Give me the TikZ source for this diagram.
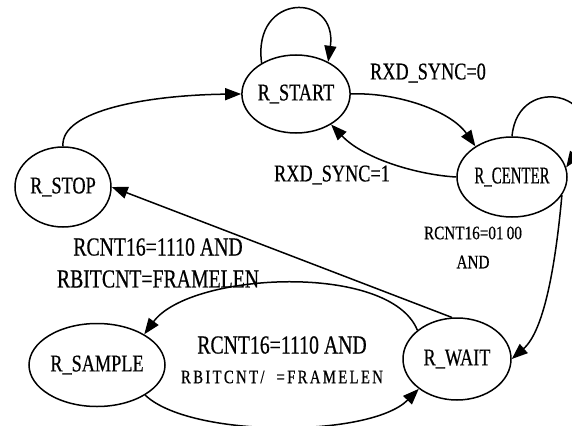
\documentclass[tikz,border=0pt]{standalone}
\usepackage{fontspec}
\setmainfont{Liberation Serif}[FakeStretch=0.76,FakeBold=0.5]
\newfontfamily\narrowfont{Liberation Serif}[FakeStretch=0.62,FakeBold=0.5]
\newfontfamily\smallfont{Liberation Serif}[FakeStretch=0.8,FakeBold=0.5]
\newfontfamily\spacedfont{Liberation Serif}[FakeStretch=0.78,LetterSpace=12,FakeBold=0.5]
\usetikzlibrary{shapes.geometric,arrows.meta}
\begin{document}
\begin{tikzpicture}[x=1pt,y=-1pt,
  state/.style={draw,ellipse,line width=1.5pt,inner sep=0pt,font=\fontsize{24}{24}\selectfont},
  arr/.style={line width=1.5pt,-{Triangle[length=16pt,width=12pt]}},
  lbl/.style={inner sep=0pt,font=\fontsize{24}{24}\selectfont},
  biglbl/.style={inner sep=0pt,font=\fontsize{26}{26}\selectfont},
  smalllbl/.style={inner sep=0pt,font=\smallfont\fontsize{19}{19}\selectfont},
  spacedlbl/.style={inner sep=0pt,font=\spacedfont\fontsize{19}{19}\selectfont}]
\useasboundingbox (0,0) rectangle (572,425);
\fill[white] (0,0) rectangle (572,425);

% states
\node[state,minimum width=100pt,minimum height=78pt] (rstart) at (296,94) {R\_START};
\node[state,minimum width=110pt,minimum height=80pt,font=\narrowfont\fontsize{24}{24}\selectfont] (rcenter) at (512,177) {R\_CENTER\hspace{34pt}};
\node[state,minimum width=96pt,minimum height=80pt] (rstop) at (63,187) {R\_STOP};
\node[state,minimum width=136pt,minimum height=83pt] (rsample) at (97,365) {R\_SAMPLE};
\node[state,minimum width=108pt,minimum height=82pt] (rwait) at (457,359) {R\_WAIT};

% transitions
\draw[arr] (rstart.138) .. controls (252,-8) and (338,-8) .. (rstart.45);
\draw[arr] (rstart.east) .. controls (395,92) and (450,110) .. (rcenter.140);
\draw[arr] (rcenter.west) .. controls (420,175) and (365,160) .. (rstart.-41);
\draw[arr] (rcenter.90) .. controls (518,70) and (615,95) .. (rcenter.10);
\draw[arr] (rcenter.-20) .. controls (556,260) and (545,330) .. (rwait.east);
\draw[arr] (rwait.97) -- (rstop.east);
\draw[arr] (rwait.144) .. controls (390,262) and (190,272) .. (rsample.33);
\draw[arr] (rsample.-32) .. controls (190,438) and (370,438) .. (rwait.218);
\draw[arr] (rstop.90) .. controls (60,110) and (150,95) .. (rstart.180);

% labels
\node[lbl] (l0) at (428,73) {RXD\_SYNC=0};
\node[lbl] (l1) at (332,175) {RXD\_SYNC=1};
\node[smalllbl] (l2a) at (473,233) {RCNT16=01\,00};
\node[smalllbl] (l2b) at (473,262) {AND};
\node[biglbl] (l3a) at (158,247) {RCNT16=1110 AND};
\node[biglbl] (l3b) at (158,279) {RBITCNT=FRAMELEN};
\node[biglbl] (l4a) at (282,345) {RCNT16=1110 AND};
\node[spacedlbl] (l4b) at (282,377) {RBITCNT/\hspace{12pt}=FRAMELEN};
\end{tikzpicture}
\end{document}
